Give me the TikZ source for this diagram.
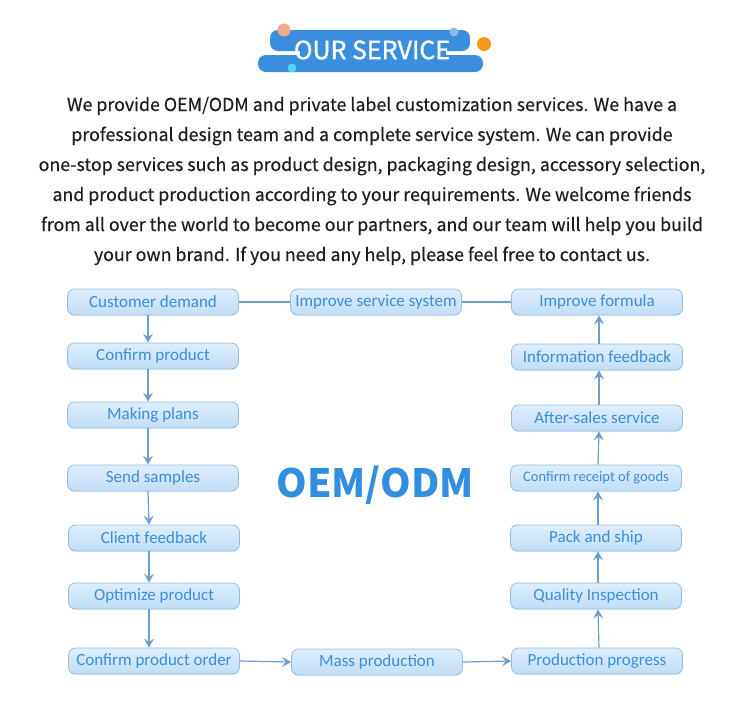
\documentclass[tikz,border=0pt]{standalone}
\usepackage{fontspec}
\setmainfont{Carlito}
\newfontfamily\srcfont[FakeBold=0.4]{Noto Sans CJK SC}
\newfontfamily\srctitle[FakeBold=1.2]{Noto Sans CJK SC}
\newfontfamily\srcbig{Noto Sans CJK SC}
\usetikzlibrary{arrows.meta,shadows}
\definecolor{banner}{RGB}{59,142,222}
\definecolor{dotpeach}{RGB}{244,170,140}
\definecolor{dotblue}{RGB}{140,186,240}
\definecolor{dotorange}{RGB}{245,155,25}
\definecolor{dotcyan}{RGB}{80,215,245}
\definecolor{boxtop}{RGB}{222,238,252}
\definecolor{boxbot}{RGB}{192,221,246}
\definecolor{boxline}{RGB}{150,188,222}
\definecolor{boxtext}{RGB}{58,142,220}
\definecolor{conn}{RGB}{110,158,206}
\definecolor{bigtext}{RGB}{50,143,224}
\definecolor{bodytext}{RGB}{30,30,30}
\tikzset{
  stepbox/.style={rounded corners=7pt, minimum width=171pt, minimum height=26pt,
    inner sep=0pt, top color=boxtop, bottom color=boxbot, draw=boxline,
    line width=0.8pt, text=boxtext, font=\fontsize{17}{17}\selectfont,
    drop shadow={shadow xshift=0pt, shadow yshift=-1pt, opacity=0.15}},
  flow/.style={draw=conn, line width=1.2pt, -{Stealth[length=9pt,width=10pt,inset=3.5pt]}},
  link/.style={draw=conn, line width=1.2pt},
}
\begin{document}
\begin{tikzpicture}[x=1pt,y=-1pt]
\useasboundingbox (0,0) rectangle (750,705);
% banner
\fill[banner, rounded corners=8pt] (270,30) rectangle (470,51);
\fill[banner, rounded corners=8pt] (258,55) rectangle (483,72);
\fill[banner] (300,30) rectangle (446,72);
\fill[dotpeach] (284,30) circle (6.5);
\fill[dotblue] (454,32) circle (4.5);
\fill[dotorange] (484,44) circle (7);
\fill[dotcyan] (292,68) circle (4.5);
\node[text=white, font=\srctitle\fontsize{25}{25}\selectfont, inner sep=0pt] (title) at (372,50) {OUR SERVICE};
% paragraph
\node[text=bodytext, align=center, font=\srcfont\fontsize{17.8}{30}\selectfont, inner sep=0pt] (para) at (372,181)
{We provide OEM/ODM and private label customization services. We have a\\
professional design team and a complete service system. We can provide\\
one-stop services such as product design, packaging design, accessory selection,\\
and product production according to your requirements. We welcome friends\\
from all over the world to become our partners, and our team will help you build\\
your own brand. If you need any help, please feel free to contact us.};
% big label
\node[text=bigtext, font=\srcbig\bfseries\fontsize{39}{39}\selectfont, inner sep=0pt] (oem) at (375,485) {OEM/ODM};
% left column
\node[stepbox] (l1) at (153,302) {Customer demand};
\node[stepbox] (l2) at (153,356) {Confirm product};
\node[stepbox] (l3) at (153,415) {Making plans};
\node[stepbox] (l4) at (153,478) {Send samples};
\node[stepbox] (l5) at (154,538) {Client feedback};
\node[stepbox] (l6) at (154,596) {Optimize product};
\node[stepbox] (l7) at (154,661) {Confirm product order};
% middle
\node[stepbox] (m1) at (376,302) {Improve service system};
\node[stepbox] (m2) at (377,662) {Mass production};
% right column
\node[stepbox] (r1) at (597,302) {Improve formula};
\node[stepbox] (r2) at (597,357) {Information feedback};
\node[stepbox] (r3) at (597,418) {After-sales service};
\node[stepbox, font=\fontsize{14.5}{14.5}\selectfont] (r4) at (596,478) {Confirm receipt of goods};
\node[stepbox] (r5) at (596,538) {Pack and ship};
\node[stepbox] (r6) at (596,596) {Quality Inspection};
\node[stepbox] (r7) at (597,661) {Production progress};
% connectors left (down)
\foreach \a/\b in {l1/l2,l2/l3,l3/l4,l4/l5,l5/l6,l6/l7}
  \draw[flow] ([xshift=-5pt]\a.south) -- ([xshift=-5pt]\b.north);
% bottom (right)
\draw[flow] (l7.east) -- (m2.west);
\draw[flow] (m2.east) -- (r7.west);
% right column (up)
\foreach \a/\b in {r7/r6,r6/r5,r5/r4,r4/r3,r3/r2,r2/r1}
  \draw[flow] ([xshift=2pt]\a.north) -- ([xshift=2pt]\b.south);
% top links
\draw[link] (l1.east) -- (m1.west);
\draw[link] (m1.east) -- (r1.west);
\end{tikzpicture}
\end{document}
